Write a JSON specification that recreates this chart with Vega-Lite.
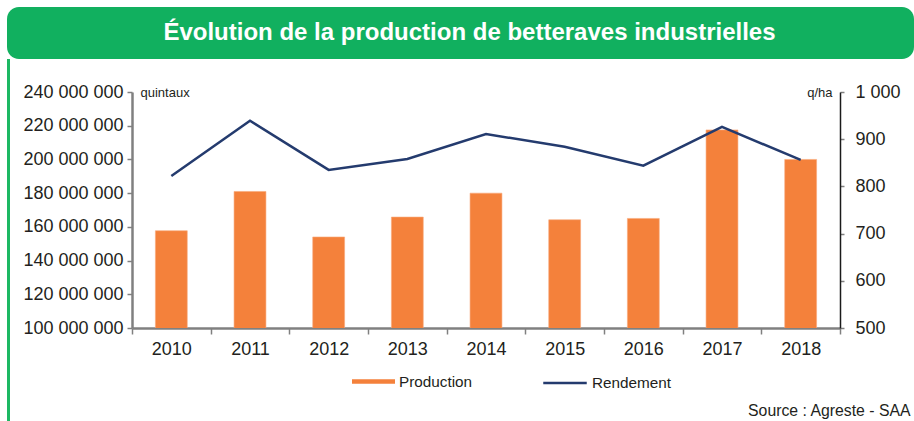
{
  "$schema": "https://vega.github.io/schema/vega-lite/v6.json",
  "padding": {"left": 7, "top": 7, "right": 0, "bottom": 0},
  "background": "white",
  "spacing": 0,
  "config": {
    "font": "Liberation Sans",
    "locale": {"number": {"decimal": ",", "thousands": " ", "grouping": [3], "currency": ["", " €"]}},
    "view": {"stroke": null},
    "axis": {"labelColor": "#231f20", "titleColor": "#231f20", "grid": false}
  },
  "vconcat": [
    {
      "width": 907,
      "height": 52,
      "view": {"fill": "#11b05f", "stroke": null, "cornerRadius": 12},
      "data": {"values": [{"t": "Évolution de la production de betteraves industrielles"}]},
      "mark": {"type": "text", "color": "#ffffff", "fontSize": 24, "fontWeight": "bold", "font": "Liberation Sans", "dx": 9},
      "encoding": {"text": {"field": "t"}}
    },
    {
      "spacing": 12,
      "hconcat": [
        {
          "width": 3,
          "height": 362,
          "view": {"fill": "#1db863", "stroke": null},
          "data": {"values": [{}]},
          "mark": {"type": "text", "text": ""}
        },
        {
          "spacing": 12,
          "vconcat": [
            {
              "width": 1,
              "height": 12,
              "data": {"values": [{}]},
              "mark": {"type": "text", "text": ""}
            },
            {
              "width": 708,
              "height": 236,
              "data": {"values": [
                {"annee": "2010", "production": 157700000, "rendement": 822},
                {"annee": "2011", "production": 181000000, "rendement": 939},
                {"annee": "2012", "production": 154000000, "rendement": 835},
                {"annee": "2013", "production": 165800000, "rendement": 858},
                {"annee": "2014", "production": 180000000, "rendement": 911},
                {"annee": "2015", "production": 164200000, "rendement": 884},
                {"annee": "2016", "production": 165000000, "rendement": 844},
                {"annee": "2017", "production": 217500000, "rendement": 926},
                {"annee": "2018", "production": 200000000, "rendement": 856}
              ]},
              "encoding": {
                "x": {
                  "field": "annee", "type": "ordinal",
                  "scale": {"paddingInner": 0, "paddingOuter": 0},
                  "axis": {
                    "labelAngle": 0, "labelFontSize": 18, "labelPadding": 6,
                    "domainColor": "#808080", "domainWidth": 2.5,
                    "tickColor": "#808080", "tickWidth": 1.5, "tickSize": 6, "tickBand": "extent",
                    "title": "Source : Agreste - SAA", "titleX": 778, "titleY": 82,
                    "titleAlign": "right", "titleAnchor": "end", "titleBaseline": "middle",
                    "titleFontSize": 15.8, "titleFontWeight": "normal"
                  }
                }
              },
              "layer": [
                {
                  "mark": {"type": "bar", "width": {"band": 0.405}, "clip": true, "stroke": "#f8a878", "strokeWidth": 0.6},
                  "encoding": {
                    "y": {
                      "field": "production", "type": "quantitative",
                      "scale": {"domain": [100000000, 240000000], "nice": false, "zero": false},
                      "axis": {
                        "values": [100000000, 120000000, 140000000, 160000000, 180000000, 200000000, 220000000, 240000000],
                        "format": ",d", "labelFontSize": 18, "labelPadding": 4,
                        "domainColor": "#808080", "domainWidth": 2.5,
                        "tickColor": "#808080", "tickWidth": 1.5, "tickSize": 5,
                        "title": "quintaux", "titleAngle": 0, "titleAlign": "left", "titleBaseline": "middle",
                        "titleX": 8, "titleY": 0, "titleFontSize": 13, "titleFontWeight": "normal"
                      }
                    },
                    "fill": {
                      "datum": "Production", "type": "nominal",
                      "scale": {"domain": ["Production"], "range": ["#f4813b"]},
                      "legend": {
                        "title": null, "orient": "none", "legendX": 345, "legendY": 353,
                        "labelFontSize": 15.3, "labelColor": "#231f20", "labelOffset": 4,
                        "symbolType": "M-1,-0.1L1,-0.1L1,0.1L-1,0.1Z", "symbolSize": 1849,
                        "symbolStrokeWidth": 0, "symbolOpacity": 1, "symbolFillColor": "#f4813b"
                      }
                    }
                  }
                },
                {
                  "mark": {"type": "line", "strokeWidth": 2.5},
                  "encoding": {
                    "y": {
                      "field": "rendement", "type": "quantitative",
                      "scale": {"domain": [500, 1000], "nice": false, "zero": false},
                      "axis": {
                        "orient": "right",
                        "values": [500, 600, 700, 800, 900, 1000],
                        "format": ",d", "labelFontSize": 18, "labelPadding": 11,
                        "domainColor": "#1a1a1a", "domainWidth": 1.5,
                        "tickColor": "#808080", "tickWidth": 1.5, "tickSize": 4,
                        "title": "q/ha", "titleAngle": 0, "titleAlign": "right", "titleBaseline": "middle",
                        "titleX": -8, "titleY": 0, "titleFontSize": 13, "titleFontWeight": "normal"
                      }
                    },
                    "stroke": {
                      "datum": "Rendement", "type": "nominal",
                      "scale": {"domain": ["Rendement"], "range": ["#243b6e"]},
                      "legend": {
                        "title": null, "orient": "none", "legendX": 535, "legendY": 353,
                        "labelFontSize": 15.3, "labelColor": "#231f20", "labelOffset": 4,
                        "symbolType": "stroke", "symbolSize": 1892, "symbolStrokeWidth": 2.5
                      }
                    }
                  }
                }
              ],
              "resolve": {"scale": {"y": "independent"}}
            }
          ]
        }
      ]
    }
  ]
}
